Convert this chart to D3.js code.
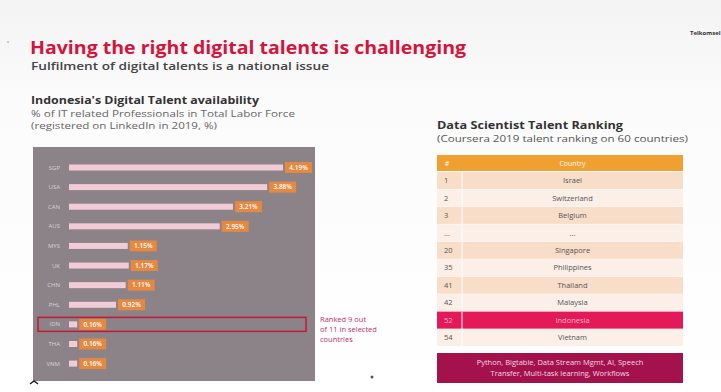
<!DOCTYPE html>
<html>
<head>
<meta charset="utf-8">
<script src="https://cdn.jsdelivr.net/npm/d3@7/dist/d3.min.js"></script>
<style>
  body { margin:0; background:#fff; }
  svg text { font-family: "Open Sans", "Noto Sans", sans-serif; }
</style>
</head>
<body>
<div id="chart"></div>
<script>
var width = 721;
var height = 392;

// left chart: % of IT related professionals in total labor force
var countries = ["SGP","USA","CAN","AUS","MYS","UK","CHN","PHL","IDN","THA","VNM"];
var shares = [4.19, 3.88, 3.21, 2.95, 1.15, 1.17, 1.11, 0.92, 0.16, 0.16, 0.16];
var highlightCountry = "IDN";

// right table: Coursera data science ranking
var ranks = ["1","2","3","...","20","35","41","42","52","54"];
var rankCountries = ["Israel","Switzerland","Belgium","...","Singapore","Philippines","Thailand","Malaysia","Indonesia","Vietnam"];
var skillLines = ["Python, Bigtable, Data Stream Mgmt, AI, Speech", "Transfer, Multi-task learning, Workflows"];

var svg = d3.select("#chart").append("svg").attr("width",width).attr("height",height);

// backdrop
var grad = svg.append("defs").append("linearGradient").attr("id","bg").attr("x1",0).attr("y1",0).attr("x2",0).attr("y2",1);
grad.append("stop").attr("offset","0").attr("stop-color","#f3f3f3");
grad.append("stop").attr("offset","0.25").attr("stop-color","#fbfbfb");
grad.append("stop").attr("offset","1").attr("stop-color","#ffffff");
svg.append("rect").attr("width",width).attr("height",height).attr("fill","url(#bg)");

// headings
svg.append("text").attr("x",30).attr("y",54)
	.attr("font-size",18).attr("font-weight",700).attr("fill","#d4143c")
	.attr("textLength",436).attr("lengthAdjust","spacingAndGlyphs")
	.text("Having the right digital talents is challenging");
svg.append("text").attr("x",31).attr("y",70)
	.attr("font-size",10.5).attr("font-weight",600).attr("fill","#444")
	.attr("textLength",298).attr("lengthAdjust","spacingAndGlyphs")
	.text("Fulfilment of digital talents is a national issue");
svg.append("text").attr("x",690).attr("y",35)
	.attr("font-size",6).attr("font-weight",700).attr("fill","#333")
	.text("Telkomsel");

svg.append("text").attr("x",31).attr("y",104)
	.attr("font-size",10).attr("font-weight",700).attr("fill","#333")
	.attr("textLength",228).attr("lengthAdjust","spacingAndGlyphs")
	.text("Indonesia's Digital Talent availability");
svg.append("text").attr("x",31).attr("y",117)
	.attr("font-size",8.5).attr("fill","#666")
	.attr("textLength",264).attr("lengthAdjust","spacingAndGlyphs")
	.text("% of IT related Professionals in Total Labor Force");
svg.append("text").attr("x",31).attr("y",129)
	.attr("font-size",8.5).attr("fill","#666")
	.attr("textLength",186).attr("lengthAdjust","spacingAndGlyphs")
	.text("(registered on LinkedIn in 2019, %)");

// left bar chart
svg.append("rect").attr("x",33).attr("y",147).attr("width",282).attr("height",234).attr("fill","#8b8387");

var x = d3.scaleLinear().domain([0, d3.max(shares)]).range([69, 283]);
var y = d3.scaleBand().domain(countries).range([157.7, 373.4]).padding(0);

var rows = svg.append("g").attr("class","bars").selectAll("g")
	.data(countries).enter().append("g")
	.attr("transform", function(d){ return "translate(0," + (y(d) + y.bandwidth()/2) + ")"; });

rows.append("rect")
	.attr("x", x(0))
	.attr("y", -3)
	.attr("height", 6)
	.attr("width", function(d,i){ return Math.max(x(shares[i]) - x(0), 7); })
	.attr("fill", "#f1ccd6");

rows.append("text")
	.attr("x", 60).attr("y", 2)
	.attr("text-anchor","end").attr("font-size",6).attr("fill","#d9d2d6")
	.text(function(d){ return d; });

rows.append("rect")
	.attr("x", function(d,i){ return Math.max(x(shares[i]), x(0)+7) + 2; })
	.attr("y", -5.5).attr("width", 27).attr("height", 11)
	.attr("fill", "#ee8a3a").attr("opacity",0.9);

rows.append("text")
	.attr("x", function(d,i){ return Math.max(x(shares[i]), x(0)+7) + 15.5; })
	.attr("y", 2.3)
	.attr("text-anchor","middle").attr("font-size",6.5).attr("font-weight",600).attr("fill","#fff")
	.text(function(d,i){ return shares[i].toFixed(2) + "%"; });

// highlight Indonesia
var hy = y(highlightCountry) + y.bandwidth()/2;
svg.append("rect").attr("x",38).attr("y",hy-7).attr("width",268).attr("height",14)
	.attr("fill","none").attr("stroke","#c4183a").attr("stroke-width",1.5);

var note = svg.append("text").attr("font-size",7.5).attr("fill","#c0306a");
["Ranked 9 out","of 11 in selected","countries"].forEach(function(t,i){
	note.append("tspan").attr("x",320).attr("y",322 + i*10).text(t);
});

// right ranking table
svg.append("text").attr("x",437).attr("y",129)
	.attr("font-size",10).attr("font-weight",700).attr("fill","#333")
	.attr("textLength",186).attr("lengthAdjust","spacingAndGlyphs")
	.text("Data Scientist Talent Ranking");
svg.append("text").attr("x",437).attr("y",142)
	.attr("font-size",9).attr("fill","#555")
	.attr("textLength",251).attr("lengthAdjust","spacingAndGlyphs")
	.text("(Coursera 2019 talent ranking on 60 countries)");

var tx0 = 437, tx1 = 683, colSplit = 462;
var ty = d3.scaleBand().domain(d3.range(ranks.length)).range([172, 346.5]);

svg.append("rect").attr("x",tx0).attr("y",155).attr("width",tx1-tx0).attr("height",16).attr("fill","#f0a030");
svg.append("text").attr("x",447).attr("y",166).attr("font-size",7).attr("fill","#fff").attr("text-anchor","middle").text("#");
svg.append("text").attr("x",(colSplit+tx1)/2).attr("y",166).attr("font-size",7).attr("fill","#fff").attr("text-anchor","middle").text("Country");

var trows = svg.append("g").attr("class","table").selectAll("g")
	.data(ranks).enter().append("g")
	.attr("transform", function(d,i){ return "translate(0," + ty(i) + ")"; });

trows.append("rect")
	.attr("x", tx0).attr("width", tx1-tx0).attr("height", ty.bandwidth())
	.attr("fill", function(d,i){
		if (rankCountries[i]=="Indonesia") return "#e3195a";
		return i%2==0 ? "#f8ddc9" : "#fbefe8";
	});
trows.append("line")
	.attr("x1", colSplit).attr("x2", colSplit).attr("y1",0).attr("y2",ty.bandwidth())
	.attr("stroke","#fff").attr("stroke-width",1);
trows.append("line")
	.attr("x1", tx0).attr("x2", tx1).attr("y1",ty.bandwidth()).attr("y2",ty.bandwidth())
	.attr("stroke","#fff").attr("stroke-width",0.8);
trows.append("text")
	.attr("x", 444).attr("y", ty.bandwidth()/2 + 2.5)
	.attr("font-size",7.5).attr("fill", function(d,i){ return rankCountries[i]=="Indonesia" ? "#f7b8c8" : "#555"; })
	.text(function(d){ return d; });
trows.append("text")
	.attr("x", (colSplit+tx1)/2).attr("y", ty.bandwidth()/2 + 2.5)
	.attr("text-anchor","middle").attr("font-size",7.5)
	.attr("fill", function(d,i){ return rankCountries[i]=="Indonesia" ? "#f7b8c8" : "#555"; })
	.text(function(d,i){ return rankCountries[i]; });

// skills box
svg.append("rect").attr("x",tx0).attr("y",353).attr("width",tx1-tx0).attr("height",30).attr("fill","#a3124d");
var skills = svg.append("text").attr("text-anchor","middle").attr("font-size",7.5).attr("fill","#f6d6e2");
skillLines.forEach(function(t,i){
	skills.append("tspan").attr("x",(tx0+tx1)/2).attr("y",365 + i*11).text(t);
});

// small marks
svg.append("text").attr("x",7).attr("y",48).attr("font-size",9).attr("fill","#777").text("'");
svg.append("circle").attr("cx",372).attr("cy",377).attr("r",1.5).attr("fill","#555");
svg.append("path").attr("d","M30,384 l4,-3 l4,3").attr("stroke","#222").attr("stroke-width",1.5).attr("fill","none");
</script>
</body>
</html>
